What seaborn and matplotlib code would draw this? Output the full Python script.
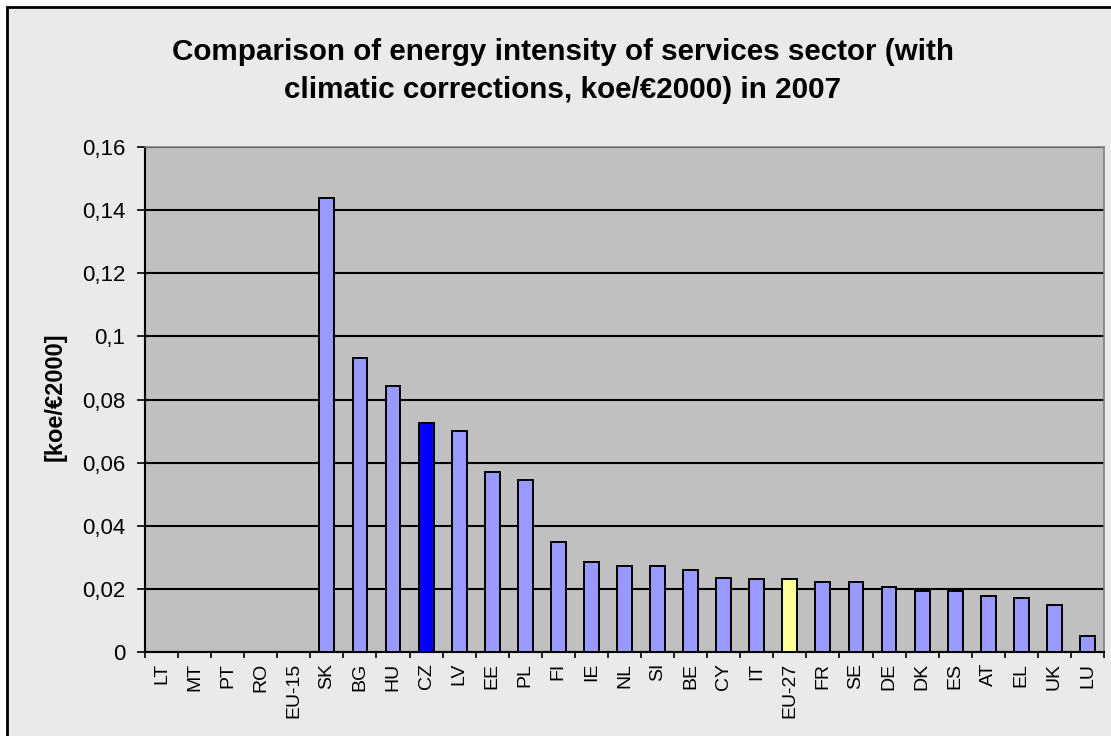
import numpy as np
import pandas as pd
import matplotlib
matplotlib.use('Agg')
import matplotlib.pyplot as plt
from matplotlib.patches import Rectangle
from matplotlib.ticker import FuncFormatter, FixedLocator
import seaborn as sns

# data (first five have no value)
countries = ['LT', 'MT', 'PT', 'RO', 'EU-15', 'SK', 'BG', 'HU', 'CZ', 'LV', 'EE', 'PL',
             'FI', 'IE', 'NL', 'SI', 'BE', 'CY', 'IT', 'EU-27', 'FR', 'SE', 'DE', 'DK',
             'ES', 'AT', 'EL', 'UK', 'LU']
values = [np.nan, np.nan, np.nan, np.nan, np.nan, 0.1440, 0.0933, 0.0843, 0.0725, 0.0701,
          0.0570, 0.0546, 0.0349, 0.0284, 0.0272, 0.0272, 0.0259, 0.0236, 0.0230, 0.0230,
          0.0223, 0.0223, 0.0206, 0.0194, 0.0194, 0.0177, 0.0170, 0.0148, 0.0052]
highlight = {'CZ': '#0000FF', 'EU-27': '#FFFF99'}

df = pd.DataFrame({'country': countries, 'value': values})
palette = {c: highlight.get(c, '#9999FF') for c in countries}

plt.rcParams['font.family'] = ['Liberation Sans', 'DejaVu Sans']

fig = plt.figure(figsize=(11.11, 7.36), dpi=100)
fig.patch.set_facecolor('white')
# chart area with black frame
fig.patches.append(Rectangle((7 / 1111, -0.05), 1.2, 1 - 7 / 736 + 0.05,
                             transform=fig.transFigure, facecolor='#EAEAEA',
                             edgecolor='black', linewidth=2, zorder=-5))

ax = fig.add_axes([145 / 1111, 1 - 652 / 736, (1104 - 145) / 1111, (652 - 147) / 736])
ax.set_zorder(2)
ax.set_facecolor('#C0C0C0')

sns.barplot(data=df, x='country', y='value', hue='country', order=countries,
            palette=palette, saturation=1, width=0.45, edgecolor='black', linewidth=1.4,
            legend=False, ax=ax, zorder=3)

ax.set_ylim(0, 0.16)
ax.set_xlim(-0.5, len(countries) - 0.5)
ax.set_yticks(np.arange(0, 0.161, 0.02))
ax.yaxis.set_major_formatter(FuncFormatter(lambda v, p: ('%g' % round(v, 2)).replace('.', ',')))
ax.grid(axis='y', color='black', linewidth=1.5, zorder=1)
ax.set_axisbelow(True)

ax.tick_params(axis='y', direction='out', length=6, width=1.2, labelsize=16, pad=8)
ax.tick_params(axis='x', which='major', length=0, labelsize=14, labelrotation=90, pad=8)
ax.xaxis.set_minor_locator(FixedLocator(np.arange(-0.5, len(countries), 1.0)))
ax.tick_params(axis='x', which='minor', direction='out', length=4, width=1.2)

for s in ['left', 'bottom']:
    ax.spines[s].set_color('black')
    ax.spines[s].set_linewidth(1.5)
for s in ['top', 'right']:
    ax.spines[s].set_color('#808080')
    ax.spines[s].set_linewidth(1.2)

ax.set_xlabel('')
ax.set_ylabel('')

fig.text(563 / 1111, 1 - 71 / 736,
         'Comparison of energy intensity of services sector (with\nclimatic corrections, koe/€2000) in 2007',
         ha='center', va='center', fontsize=21.3, fontweight='bold', linespacing=1.5)
fig.text(55 / 1111, 1 - 397 / 736, '[koe/€2000]', rotation=90, ha='center', va='center',
         fontsize=17, fontweight='bold')

fig.savefig('out.png', dpi=100)
